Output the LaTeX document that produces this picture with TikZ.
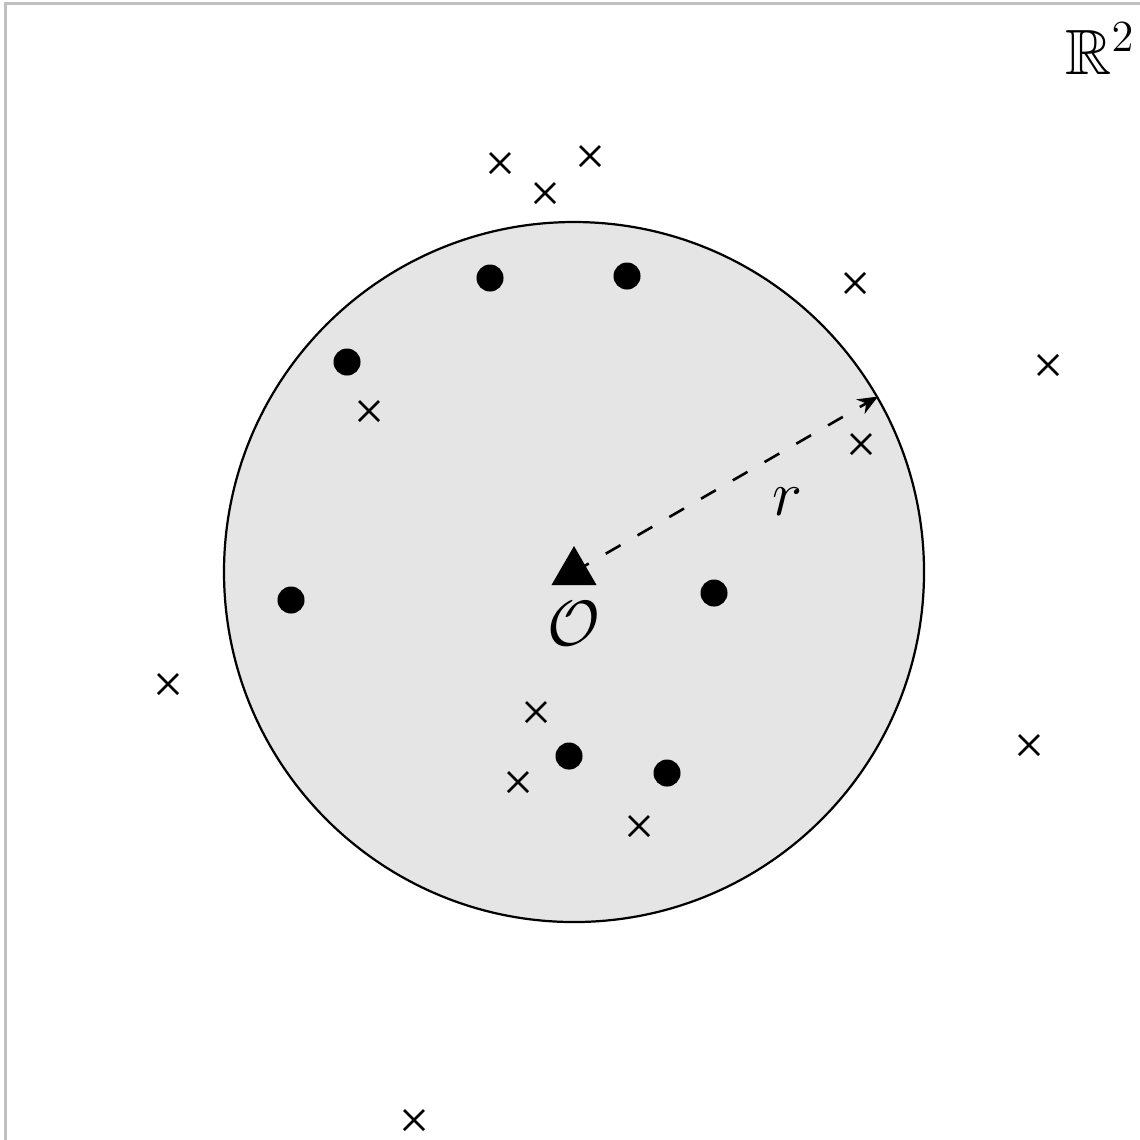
\documentclass[tikz,border=0pt]{standalone}
\usepackage{amsfonts}
\usetikzlibrary{shapes.geometric,arrows.meta}
\tikzset{
  crossmark/.style={line width=0.7pt},
  dotmark/.style={circle,fill=black,inner sep=0pt,minimum size=7.3pt},
  lbl/.style={font=\LARGE,inner sep=0pt}
}
\newcommand{\xmark}[2]{\draw[crossmark] (#1-10,#2-10) -- (#1+10,#2+10) (#1-10,#2+10) -- (#1+10,#2-10);}
\begin{document}
\begin{tikzpicture}[x=0.27pt,y=-0.27pt]
\useasboundingbox (0,0) rectangle (1140,1139);
\begin{scope}
\clip (0,0) rectangle (1140,1139);
\draw[line width=0.7pt,color={rgb,255:red,192;green,192;blue,192}] (5.3,3.2) rectangle (1300,1300);
\end{scope}
\node[lbl,anchor=north east] (R2) at (1136,22) {$\mathbb{R}^2$};
\node[circle,draw=black,line width=0.6pt,fill=gray!20,minimum size=700*0.27pt,inner sep=0pt] (disk) at (574,572) {};
% dots
\node[dotmark] (d1) at (490,278) {};
\node[dotmark] (d2) at (627,276) {};
\node[dotmark] (d3) at (347,362) {};
\node[dotmark] (d4) at (291,600) {};
\node[dotmark] (d5) at (714,593) {};
\node[dotmark] (d6) at (569,756) {};
\node[dotmark] (d7) at (667,773) {};
% crosses
\xmark{500}{163}
\xmark{590}{156}
\xmark{545}{193}
\xmark{855}{283}
\xmark{1048}{365}
\xmark{369}{411}
\xmark{861}{444}
\xmark{168}{684}
\xmark{536}{712}
\xmark{518}{782}
\xmark{639}{826}
\xmark{1029}{745}
\xmark{414}{1120}
% origin
\node[regular polygon,regular polygon sides=3,fill=black,inner sep=0pt,minimum size=52*0.27pt] (O) at (574,572) {};
\node[lbl] (Olabel) at (574,624) {$\mathcal{O}$};
\draw[line width=0.7pt,dash pattern=on 4.6pt off 5.3pt,-{Stealth[length=5.5pt,width=4.5pt]}] (disk.center) -- (disk.30);
\node[lbl] (rlabel) at (787,502) {$r$};
\end{tikzpicture}
\end{document}
